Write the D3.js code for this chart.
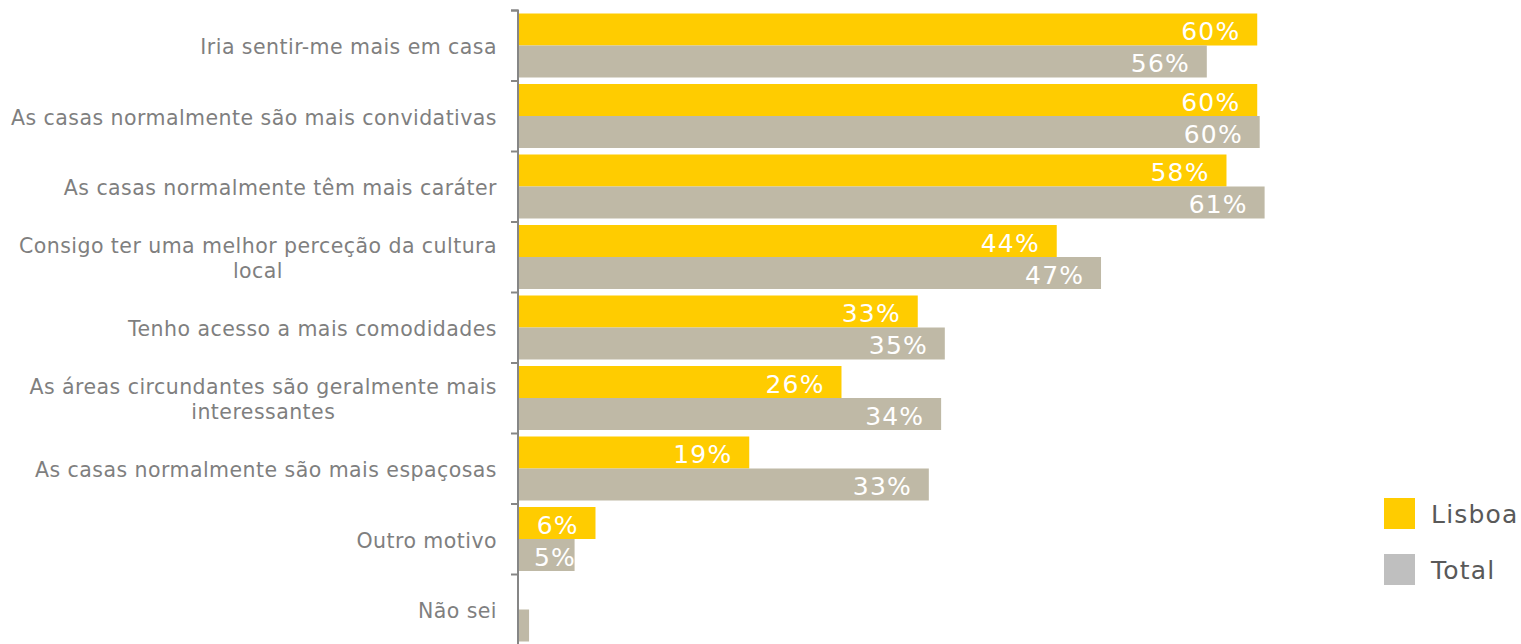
<!DOCTYPE html>
<html><head><meta charset="utf-8">
<script src="https://cdn.jsdelivr.net/npm/d3@7"></script>
<style>
html,body{margin:0;padding:0;background:#fff;}
svg{display:block;font-family:"DejaVu Sans",Verdana,sans-serif;}
</style></head>
<body>
<svg id="chart" width="1521" height="644"></svg>
<script>
const categories = [
  ["Iria sentir-me mais em casa"],
  ["As casas normalmente são mais convidativas"],
  ["As casas normalmente têm mais caráter"],
  ["Consigo ter uma melhor perceção da cultura", "local"],
  ["Tenho acesso a mais comodidades"],
  ["As áreas circundantes são geralmente mais", "interessantes"],
  ["As casas normalmente são mais espaçosas"],
  ["Outro motivo"],
  ["Não sei"]
];
const seriesNames = ["Lisboa", "Total"];
const lisboa = [60.1, 60.1, 57.6, 43.8, 32.5, 26.3, 18.8, 6.3, 0];
const total  = [56.0, 60.3, 60.7, 47.4, 34.7, 34.4, 33.4, 4.6, 0.9];
const barColors = ["#FFCC00", "#BFB9A6"];
const legendColors = ["#FFCC00", "#BFBFBF"];

const svg = d3.select("#chart");
const axisX = 518;
const y0 = d3.scaleBand().domain(d3.range(categories.length)).range([10, 644.5]).padding(0);
const y1 = d3.scaleBand().domain(seriesNames).range([3.5, y0.bandwidth() - 3]).padding(0);
const x = d3.scaleLinear().domain([0, 60]).range([axisX, axisX + 738]);

const data = categories.map((c, i) => ({c, i, vals: [lisboa[i], total[i]]}));

// bars
const g = svg.append("g");
data.forEach(d => {
  d.vals.forEach((v, s) => {
    if (v <= 0) return;
    const yy = y0(d.i) + y1(seriesNames[s]);
    g.append("rect")
      .attr("x", x(0)).attr("y", yy)
      .attr("width", x(v) - x(0)).attr("height", y1.bandwidth())
      .attr("fill", barColors[s]);
    if (v >= 2) {
      const label = Math.round(v) + "%";
      const ls = 1.2;
      const t = g.append("text")
        .attr("text-anchor", "end")
        .attr("fill", "#fff")
        .attr("font-size", 25)
        .attr("letter-spacing", ls)
        .attr("y", yy + y1.bandwidth() / 2 + 10.5)
        .text(label);
      const w = t.node().getComputedTextLength();
      const xe = Math.max(x(v) - 18 + ls, axisX + 16 + w);
      t.attr("x", xe);
    }
  });
});

// axis
const axis = d3.axisLeft(d3.scaleLinear().domain([0, categories.length]).range([10, 644.5]))
  .ticks(categories.length).tickSize(7).tickFormat("");
const ax = svg.append("g").attr("transform", `translate(${axisX},0)`).call(axis);
ax.select(".domain").attr("stroke", "#868686").attr("stroke-width", 2).attr("d", "M-7,10.5H0V660");
ax.selectAll(".tick line").attr("stroke", "#868686").attr("stroke-width", 2);

// category labels
data.forEach(d => {
  const c = y0(d.i) + y0.bandwidth() / 2;
  const n = d.c.length;
  const t = svg.append("text")
    .attr("font-size", 20.5)
    .attr("letter-spacing", 0.45)
    .attr("fill", "#7F7F7F")
    .attr("text-anchor", "middle");
  const tspans = d.c.map((line, k) => t.append("tspan").text(line)
    .attr("y", c + 9 + (k - (n - 1) / 2) * 25));
  let maxW = 0;
  tspans.forEach(ts => { maxW = Math.max(maxW, ts.node().getComputedTextLength()); });
  tspans.forEach(ts => ts.attr("x", 497 - maxW / 2));
});

// legend
const lg = svg.append("g");
seriesNames.forEach((s, k) => {
  const yy = 498 + k * 56;
  lg.append("rect").attr("x", 1384).attr("y", yy).attr("width", 31).attr("height", 31).attr("fill", legendColors[k]);
  lg.append("text").attr("x", 1431).attr("y", yy + 25)
    .attr("font-size", 25).attr("letter-spacing", 1.2).attr("fill", "#595959").text(s);
});
</script>
</body></html>
